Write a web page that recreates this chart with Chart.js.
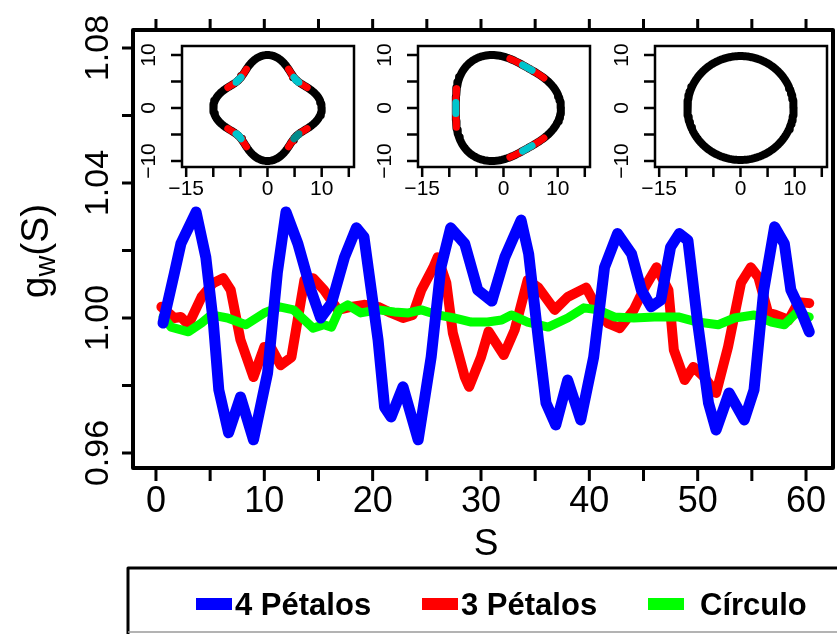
<!DOCTYPE html>
<html>
<head>
<meta charset="utf-8">
<script src="https://cdn.jsdelivr.net/npm/chart.js@4.4.1/dist/chart.umd.min.js"></script>
<style>
  html, body { margin: 0; padding: 0; background: #fff; }
  #wrap { position: relative; width: 837px; height: 634px; overflow: hidden; }
  #wrap canvas { position: absolute; top: 0; }
</style>
</head>
<body>
<div id="wrap">
  <canvas id="main" width="837" height="634" style="left:0"></canvas>
</div>
<script>
// g_w(S) along the contour for each shape
const sBlue = [0.65, 1.7, 2.3, 3.7, 4.6, 5.3, 5.8, 6.7, 7.8, 9.0, 10.3, 11.2, 12.0, 13.1, 14.3, 15.2, 16.2, 17.4, 18.5, 19.2,
  20.5, 21.1, 21.7, 22.8, 24.2, 25.4, 26.3, 27.2, 28.5, 29.7, 31.0, 32.2, 33.7, 34.4, 35.3, 36.0, 36.9, 38.0, 39.2, 40.4,
  41.4, 42.6, 43.9, 44.8, 45.7, 46.6, 47.5, 48.3, 49.1, 50.0, 51.0, 51.7, 52.9, 54.3, 55.2, 56.1, 57.1, 58.0, 58.6, 59.6, 60.3];
const gBlue = [0.9985, 1.0133, 1.022, 1.0314, 1.018, 0.9985, 0.9787, 0.966, 0.9766, 0.9639, 0.9837, 1.0133, 1.0314, 1.022, 1.0083, 1.000, 1.0044, 1.018, 1.0267, 1.024,
  0.9935, 0.9736, 0.9707, 0.9796, 0.9639, 0.9884, 1.015, 1.0267, 1.022, 1.0083, 1.005, 1.018, 1.029, 1.019, 0.9935, 0.9748, 0.9683, 0.9816, 0.9698, 0.9884,
  1.015, 1.025, 1.019, 1.0083, 1.0033, 1.0053, 1.021, 1.025, 1.023, 0.9985, 0.9748, 0.9668, 0.9778, 0.9698, 0.9787, 1.0083, 1.027, 1.022, 1.0083, 1.0015, 0.9959];

const sRed = [0.5, 1.7, 2.3, 3.0, 4.2, 5.3, 6.2, 6.9, 7.8, 9.0, 10.0, 10.6, 11.5, 12.5, 13.7, 14.5, 15.5, 16.8, 18.0, 19.2,
  20.5, 21.7, 22.8, 23.7, 24.5, 25.6, 26.0, 26.8, 27.4, 28.5, 28.9, 30.0, 30.7, 32.1, 33.1, 34.3, 35.3, 36.8, 38.0, 39.7,
  40.8, 41.7, 42.8, 44.1, 45.1, 46.2, 47.3, 47.8, 48.8, 49.6, 50.6, 51.7, 52.8, 54.0, 54.9, 55.6, 56.5, 57.2, 58.4, 59.3, 60.3];
const gRed = [1.0033, 1.0, 1.0003, 0.998, 1.0062, 1.0104, 1.0118, 1.0083, 0.9935, 0.9825, 0.9914, 0.9914, 0.986, 0.9884, 1.0112, 1.0118, 1.0083, 1.0024, 1.0033, 1.0039,
  1.0033, 1.0015, 1.0, 1.0009, 1.0083, 1.015, 1.018, 1.0104, 0.9956, 0.9825, 0.9796, 0.9884, 0.996, 0.989, 0.9964, 1.0112, 1.009, 1.0024, 1.0062, 1.009,
  1.0024, 0.9985, 0.997, 1.0024, 1.009, 1.015, 1.0083, 0.9905, 0.9816, 0.9855, 0.9825, 0.9778, 0.9914, 1.0104, 1.015, 1.0121, 1.0015, 1.0009, 0.9994, 1.0047, 1.0044];

const sGreen = [0.65, 1.4, 3.0, 4.2, 5.1, 6.6, 8.3, 10.0, 11.4, 12.7, 13.7, 14.5, 15.5, 16.2, 16.9, 17.7, 18.9, 20.5, 22.0, 23.3,
  24.5, 26.0, 27.5, 29.1, 30.6, 31.9, 32.8, 34.3, 36.2, 38.0, 39.5, 40.8, 42.3, 44.1, 46.0, 48.2, 50.0, 51.9, 53.4, 55.2,
  56.8, 58.0, 59.1, 60.3];
const gGreen = [1.0003, 0.9973, 0.9959, 0.9985, 1.0009, 1.0, 0.998, 1.0015, 1.0033, 1.0024, 0.9994, 0.997, 0.998, 0.9973, 1.0024, 1.0039, 1.0015, 1.0024, 1.0018, 1.0015,
  1.0024, 1.0009, 1.0, 0.9988, 0.9988, 0.9994, 1.0009, 0.9988, 0.9973, 1.0, 1.003, 1.0024, 1.0003, 1.0, 1.0003, 1.0003, 0.9988, 0.998, 1.0, 1.0009,
  0.9988, 0.998, 1.0015, 1.0003];

const seriesNames = ['4 Pétalos', '3 Pétalos', 'Círculo'];
const seriesColors = ['#0000ff', '#ff0000', '#00ff00'];

const xTicks = [0, 5, 10, 15, 20, 25, 30, 35, 40, 45, 50, 55, 60];
const xTickLabels = [0, 10, 20, 30, 40, 50, 60];
const yTicks = [0.96, 0.98, 1.00, 1.02, 1.04, 1.06, 1.08];
const yTickLabels = [0.96, 1.00, 1.04, 1.08];

// small contour plots: petals, mean radius, petal amplitude
const insetPetals = [4, 3, 0];
const insetRadius = [8.75, 9.7, 9.8];
const insetAmplitude = [1.25, 0.9, 0];
const insetXTicks = [-15, -10, -5, 0, 5, 10, 15];
const insetXLabels = [-15, 0, 10];
const insetYTicks = [-10, -5, 0, 5, 10];
const insetYLabels = [-10, 0, 10];

const FONT = '"Liberation Sans", Arial, Helvetica, sans-serif';

function toPoints(xs, ys) {
  return xs.map((x, i) => ({ x: x, y: ys[i] }));
}

function num(v) {
  return String(v).replace('-', '\u2212');
}

const mainFrame = {
  id: 'mainFrame',
  afterDraw(chart) {
    const { ctx, chartArea: a } = chart;
    const x = chart.scales.x, y = chart.scales.y;
    ctx.save();
    ctx.strokeStyle = '#000';
    ctx.fillStyle = '#000';
    ctx.lineJoin = 'round';
    ctx.lineWidth = 4;
    ctx.strokeRect(a.left, a.top, a.right - a.left, a.bottom - a.top);

    ctx.lineWidth = 3;
    ctx.beginPath();
    xTicks.forEach((v) => {
      const px = x.getPixelForValue(v);
      ctx.moveTo(px, a.bottom);
      ctx.lineTo(px, a.bottom + 13);
      ctx.moveTo(px, a.top);
      ctx.lineTo(px, a.top - 11);
    });
    yTicks.forEach((v) => {
      const py = y.getPixelForValue(v);
      ctx.moveTo(a.left, py);
      ctx.lineTo(a.left - 11, py);
    });
    ctx.stroke();

    ctx.font = '36px ' + FONT;
    ctx.textAlign = 'center';
    ctx.textBaseline = 'alphabetic';
    xTickLabels.forEach((v) => {
      ctx.fillText(String(v), x.getPixelForValue(v), 512);
    });
    ctx.font = '37px ' + FONT;
    ctx.fillText('S', (a.left + a.right) / 2 + 3, 555);

    ctx.font = '34px ' + FONT;
    yTickLabels.forEach((v) => {
      ctx.save();
      ctx.translate(108, y.getPixelForValue(v));
      ctx.rotate(-Math.PI / 2);
      ctx.fillText(v.toFixed(2), 0, 0);
      ctx.restore();
    });

    // y title g_w(S)
    ctx.save();
    ctx.translate(48, 251);
    ctx.rotate(-Math.PI / 2);
    ctx.textAlign = 'left';
    ctx.font = '39px ' + FONT;
    const gW = ctx.measureText('g').width;
    const pW = ctx.measureText('(S)').width;
    ctx.font = '29px ' + FONT;
    const wW = ctx.measureText('w').width;
    let cx = -(gW + wW + pW) / 2;
    ctx.font = '39px ' + FONT;
    ctx.fillText('g', cx, 0);
    cx += gW;
    ctx.font = '29px ' + FONT;
    ctx.fillText('w', cx, 7);
    cx += wW;
    ctx.font = '39px ' + FONT;
    ctx.fillText('(S)', cx, 0);
    ctx.restore();

    // legend box
    ctx.lineWidth = 3;
    ctx.beginPath();
    ctx.moveTo(128, 640);
    ctx.lineTo(128, 568);
    ctx.lineTo(845, 568);
    ctx.stroke();
    ctx.strokeStyle = '#9a9a9a';
    ctx.lineWidth = 1.5;
    ctx.beginPath();
    ctx.moveTo(128, 632);
    ctx.lineTo(840, 632);
    ctx.stroke();

    const swatchX = [196, 422, 648];
    const textX = [235, 461, 700];
    ctx.font = 'bold 31px ' + FONT;
    ctx.textAlign = 'left';
    seriesNames.forEach((name, i) => {
      ctx.fillStyle = seriesColors[i];
      ctx.fillRect(swatchX[i], 598, 36, 12);
      ctx.fillStyle = '#000';
      ctx.fillText(name, textX[i], 615);
    });
    ctx.restore();
  }
};

const lineStyle = { pointRadius: 0, tension: 0, borderJoinStyle: 'round', borderCapStyle: 'round', fill: false };

new Chart(document.getElementById('main'), {
  type: 'line',
  data: {
    datasets: [
      Object.assign({ label: seriesNames[0], data: toPoints(sBlue, gBlue), borderColor: seriesColors[0], borderWidth: 11, order: 0 }, lineStyle),
      Object.assign({ label: seriesNames[1], data: toPoints(sRed, gRed), borderColor: seriesColors[1], borderWidth: 10, order: 2 }, lineStyle),
      Object.assign({ label: seriesNames[2], data: toPoints(sGreen, gGreen), borderColor: seriesColors[2], borderWidth: 9, order: 1 }, lineStyle),
    ],
  },
  options: {
    responsive: false,
    animation: false,
    devicePixelRatio: 1,
    layout: { padding: { left: 133, top: 30, right: 4, bottom: 166 } },
    scales: {
      x: { type: 'linear', min: -2.12, max: 62.49, display: false },
      y: { type: 'linear', min: 0.95555, max: 1.08533, display: false },
    },
    plugins: { legend: { display: false }, tooltip: { enabled: false } },
  },
  plugins: [mainFrame],
});

// contour insets
function outline(n, r0, amp, fromDeg, toDeg) {
  const pts = [];
  const step = (toDeg - fromDeg) / Math.max(8, Math.round(Math.abs(toDeg - fromDeg) / 2));
  for (let d = fromDeg; d <= toDeg + 1e-9; d += step) {
    const t = d * Math.PI / 180;
    const r = r0 + amp * Math.cos(n * t);
    pts.push({ x: r * Math.cos(t), y: r * Math.sin(t) });
  }
  return pts;
}

const insetFrame = {
  id: 'insetFrame',
  afterDraw(chart) {
    const { ctx, chartArea: a } = chart;
    const x = chart.scales.x, y = chart.scales.y;
    ctx.save();
    ctx.strokeStyle = '#000';
    ctx.fillStyle = '#000';
    ctx.lineWidth = 2.5;
    ctx.strokeRect(a.left, a.top, a.right - a.left, a.bottom - a.top);
    ctx.lineWidth = 2.5;
    ctx.beginPath();
    insetXTicks.forEach((v) => {
      const px = x.getPixelForValue(v);
      ctx.moveTo(px, a.bottom);
      ctx.lineTo(px, a.bottom + 10);
    });
    insetYTicks.forEach((v) => {
      const py = y.getPixelForValue(v);
      ctx.moveTo(a.left, py);
      ctx.lineTo(a.left - 11, py);
    });
    ctx.stroke();
    ctx.font = '21px ' + FONT;
    ctx.textAlign = 'center';
    ctx.textBaseline = 'alphabetic';
    insetXLabels.forEach((v) => {
      ctx.fillText(num(v), x.getPixelForValue(v), a.bottom + 28);
    });
    insetYLabels.forEach((v) => {
      ctx.save();
      ctx.translate(a.left - 27, y.getPixelForValue(v));
      ctx.rotate(-Math.PI / 2);
      ctx.fillText(num(v), 0, 0);
      ctx.restore();
    });
    ctx.restore();
  }
};

const insetLeft = [182, 418, 655];
const wrap = document.getElementById('wrap');
insetPetals.forEach((n, k) => {
  const cv = document.createElement('canvas');
  cv.width = 230;
  cv.height = 210;
  cv.style.left = (insetLeft[k] - 45) + 'px';
  wrap.appendChild(cv);

  const r0 = insetRadius[k], amp = insetAmplitude[k];
  const sets = [{ data: outline(n, r0, amp, 0, 360), borderColor: '#000', borderWidth: 8, order: 3 }];
  if (n > 0) {
    const period = 360 / n;
    for (let j = 0; j < n; j++) {
      const c = (j + 0.5) * period;
      const redHalf = 0.19 * period, cyanHalf = 0.055 * period;
      sets.push({ data: outline(n, r0, amp, c - redHalf, c + redHalf), borderColor: '#ff0000', borderWidth: 7, order: 2 });
      const cyan = (n === 4 && j === 3) ? '#008b8b' : '#00c5cd';
      sets.push({ data: outline(n, r0, amp, c - cyanHalf, c + cyanHalf), borderColor: cyan, borderWidth: 7, order: 1 });
    }
  }

  new Chart(cv, {
    type: 'scatter',
    data: {
      datasets: sets.map((s) => Object.assign({ showLine: true, pointRadius: 0, borderCapStyle: 'round', borderJoinStyle: 'round', tension: 0 }, s)),
    },
    options: {
      responsive: false,
      animation: false,
      devicePixelRatio: 1,
      layout: { padding: { left: 45, top: 46, right: 13, bottom: 43 } },
      scales: {
        x: { type: 'linear', min: -15.77, max: 15.96, display: false },
        y: { type: 'linear', min: -11.13, max: 11.7, display: false },
      },
      plugins: { legend: { display: false }, tooltip: { enabled: false } },
    },
    plugins: [insetFrame],
  });
});
</script>
</body>
</html>
